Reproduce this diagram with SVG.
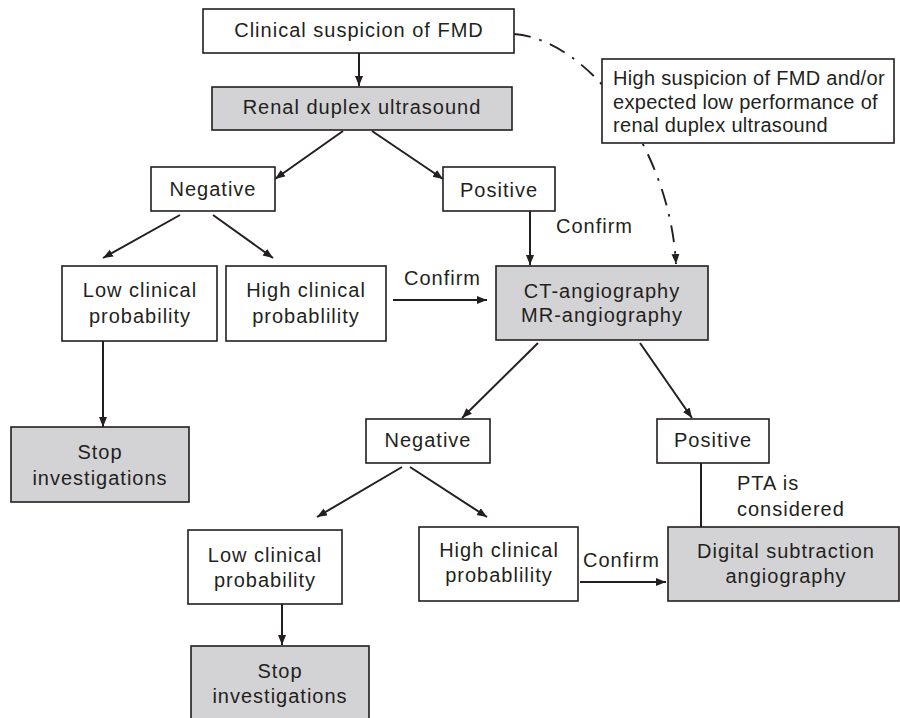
<svg xmlns="http://www.w3.org/2000/svg" width="900" height="718" viewBox="0 0 900 718">
<defs>
<marker id="ah" markerUnits="userSpaceOnUse" markerWidth="11" markerHeight="9" refX="10" refY="4" orient="auto">
<path d="M0,0 L10,4 L0,8 z" fill="#231f20"/>
</marker>
<style>
.box{fill:#ffffff;stroke:#231f20;stroke-width:1.6}
.gbox{fill:#d3d3d5;stroke:#231f20;stroke-width:1.6}
.t{font-family:"Liberation Sans",Arial,sans-serif;font-size:20px;fill:#231f20;letter-spacing:1px}
.c{text-anchor:middle}
.a{font-family:"Liberation Sans",Arial,sans-serif;font-size:20px;fill:#231f20;letter-spacing:0.3px}
.ln{stroke:#231f20;stroke-width:2;fill:none}
.arr{stroke:#231f20;stroke-width:2;fill:none;marker-end:url(#ah)}
.dd{stroke:#231f20;stroke-width:1.9;fill:none;stroke-dasharray:17 9 2.5 9;marker-end:url(#ah)}
</style>
</defs>
<rect width="900" height="718" fill="#ffffff"/>
<g id="connectors">
<path class="dd" d="M514,34 C590,40 670,150 676,264"/>
<path class="arr" d="M359,53 L359,86"/>
<path class="arr" d="M343,131 L275,179"/>
<path class="arr" d="M372,131 L443,179"/>
<path class="arr" d="M180,215 L103,258"/>
<path class="arr" d="M213,215 L273,258"/>
<path class="arr" d="M103,341 L103,427"/>
<path class="arr" d="M393,300 L487,300"/>
<path class="arr" d="M530,211 L530,265"/>
<path class="arr" d="M538,343 L462,418"/>
<path class="arr" d="M640,343 L692,418"/>
<path class="arr" d="M402,467 L317,517"/>
<path class="arr" d="M410,467 L487,517"/>
<path class="arr" d="M282,604 L282,645"/>
<path class="arr" d="M580,582 L666,582"/>
<path class="ln" d="M701,463 L701,527"/>
<text class="t" x="404" y="285">Confirm</text>
<text class="t" x="556" y="233">Confirm</text>
<text class="t" x="583" y="567">Confirm</text>
<text class="t" x="737" y="490">PTA is</text>
<text class="t" x="737" y="516">considered</text>
</g>
<g id="n-clinical">
<rect class="box" x="203" y="9" width="311" height="44"/>
<text class="t c" x="359" y="37">Clinical suspicion of FMD</text>
</g>
<g id="n-high-suspicion">
<rect class="box" x="602" y="59" width="292" height="84"/>
<text class="a" x="613" y="85">High suspicion of FMD and/or</text>
<text class="a" x="613" y="109">expected low performance of</text>
<text class="a" x="613" y="132">renal duplex ultrasound</text>
</g>
<g id="n-renal">
<rect class="gbox" x="212" y="87" width="300" height="43"/>
<text class="t c" x="362" y="114">Renal duplex ultrasound</text>
</g>
<g id="n-neg1">
<rect class="box" x="151" y="167" width="124" height="44"/>
<text class="t c" x="213" y="196">Negative</text>
</g>
<g id="n-pos1">
<rect class="box" x="443" y="167" width="112" height="44"/>
<text class="t c" x="499" y="197">Positive</text>
</g>
<g id="n-low1">
<rect class="box" x="62" y="266" width="155" height="75"/>
<text class="t c" x="140" y="297">Low clinical</text>
<text class="t c" x="140" y="323">probability</text>
</g>
<g id="n-high1">
<rect class="box" x="226" y="266" width="160" height="75"/>
<text class="t c" x="306" y="297">High clinical</text>
<text class="t c" x="306" y="323">probablility</text>
</g>
<g id="n-ct">
<rect class="gbox" x="496" y="266" width="212" height="74"/>
<text class="t c" x="602" y="298">CT-angiography</text>
<text class="t c" x="602" y="322">MR-angiography</text>
</g>
<g id="n-stop1">
<rect class="gbox" x="11" y="427" width="178" height="75"/>
<text class="t c" x="100" y="459">Stop</text>
<text class="t c" x="100" y="485">investigations</text>
</g>
<g id="n-neg2">
<rect class="box" x="366" y="419" width="124" height="44"/>
<text class="t c" x="428" y="447">Negative</text>
</g>
<g id="n-pos2">
<rect class="box" x="657" y="419" width="112" height="44"/>
<text class="t c" x="713" y="447">Positive</text>
</g>
<g id="n-low2">
<rect class="box" x="188" y="530" width="154" height="74"/>
<text class="t c" x="265" y="562">Low clinical</text>
<text class="t c" x="265" y="587">probability</text>
</g>
<g id="n-high2">
<rect class="box" x="419" y="527" width="159" height="74"/>
<text class="t c" x="499" y="557">High clinical</text>
<text class="t c" x="499" y="582">probablility</text>
</g>
<g id="n-dsa">
<rect class="gbox" x="668" y="527" width="231" height="74"/>
<text class="t c" x="786" y="558">Digital subtraction</text>
<text class="t c" x="786" y="583">angiography</text>
</g>
<g id="n-stop2">
<rect class="gbox" x="191" y="646" width="178" height="75"/>
<text class="t c" x="280" y="678">Stop</text>
<text class="t c" x="280" y="703">investigations</text>
</g>
</svg>
